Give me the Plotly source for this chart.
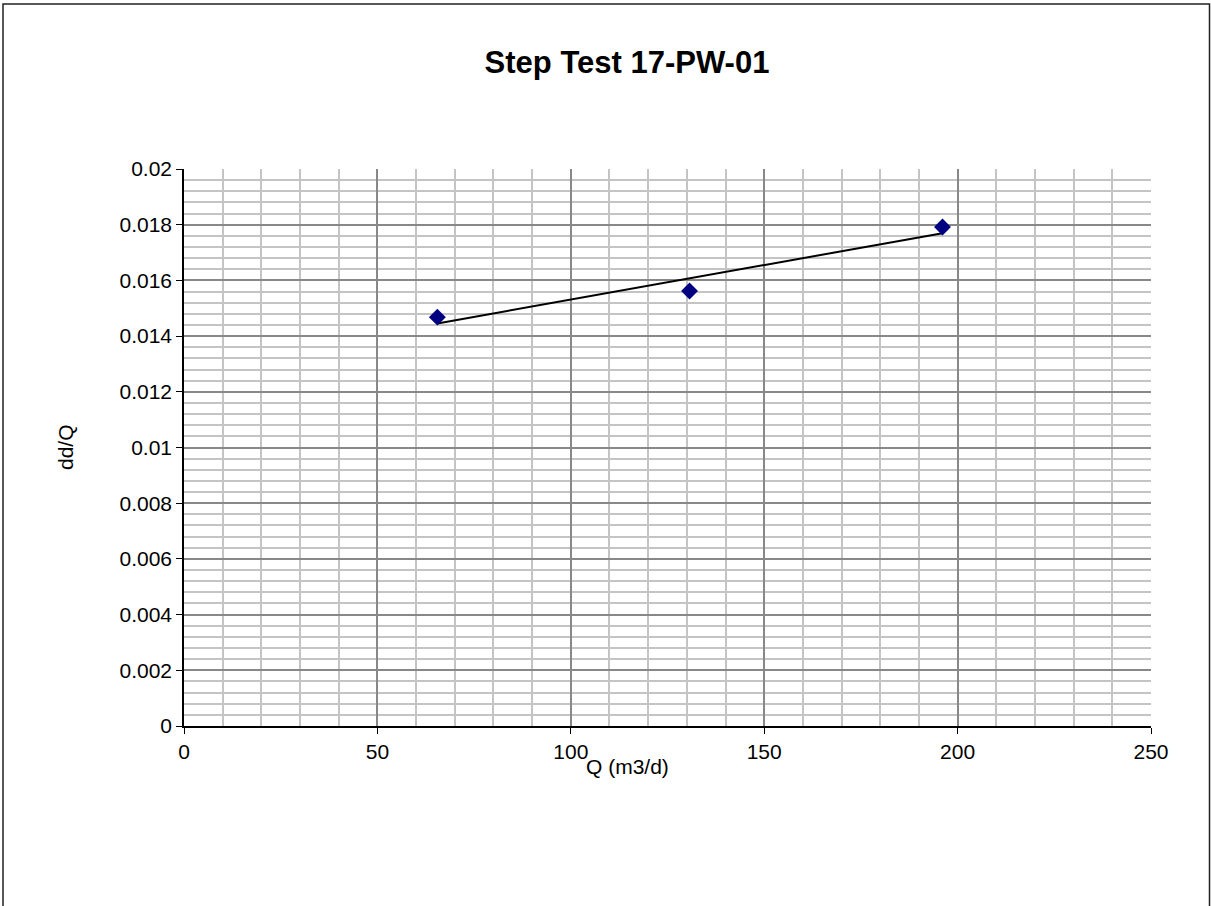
import numpy as np
import plotly.graph_objects as go

# Data
q_values = [65.5, 130.7, 196.1]
ddq_values = [0.01468, 0.01562, 0.01792]
title_text = "Step Test 17-PW-01"
x_title = "Q (m3/d)"
y_title = "dd/Q"

# Linear trendline from the data
coef = np.polyfit(q_values, ddq_values, 1)
trend_x = [min(q_values), max(q_values)]
trend_y = [coef[0] * v + coef[1] for v in trend_x]

fig = go.Figure()
fig.add_trace(go.Scatter(x=trend_x, y=trend_y, mode="lines",
                         line=dict(color="black", width=2), showlegend=False, hoverinfo="skip"))
fig.add_trace(go.Scatter(x=q_values, y=ddq_values, mode="markers",
                         marker=dict(symbol="diamond", color="#000080", size=13,
                                     line=dict(width=0)), showlegend=False))

W, H = 1211, 906
L, R, T, B = 184, 1151, 169, 726
pw, ph = R - L, B - T

def px(xp):
    return (xp - L) / pw

def py(yp):
    return (B - yp) / ph

fig.update_layout(
    width=W, height=H,
    margin=dict(l=L, r=W - R, t=T, b=H - B, pad=0),
    paper_bgcolor="white", plot_bgcolor="white",
    font=dict(family="Liberation Sans, Arial, sans-serif", size=21, color="black"),
    title=dict(text="<b>" + title_text + "</b>", x=627 / W, xanchor="center",
               y=1 - 62 / H, yanchor="middle", font=dict(size=31, color="black")),
    xaxis=dict(range=[0, 250], dtick=50, tick0=0, showline=True, linecolor="black", linewidth=1.5,
               ticks="outside", ticklen=6, tickcolor="black", showgrid=True, gridcolor="#888888",
               gridwidth=2, zeroline=False, tickfont=dict(size=21),
               minor=dict(dtick=10, showgrid=True, gridcolor="#c4c4c4", gridwidth=2)),
    yaxis=dict(range=[0, 0.02], dtick=0.002, tick0=0, showline=True, linecolor="black", linewidth=1.5,
               ticks="outside", ticklen=6, tickcolor="black", showgrid=True, gridcolor="#888888",
               gridwidth=2, zeroline=False, tickformat="~g", tickfont=dict(size=21),
               minor=dict(dtick=0.0004, showgrid=True, gridcolor="#c4c4c4", gridwidth=2)),
    annotations=[
        dict(text=x_title, xref="paper", yref="paper", x=px(627), y=py(766),
             xanchor="center", yanchor="middle", showarrow=False, font=dict(size=21)),
        dict(text=y_title, xref="paper", yref="paper", x=px(65), y=py(447),
             xanchor="center", yanchor="middle", showarrow=False, textangle=-90,
             font=dict(size=21)),
    ],
    shapes=[dict(type="rect", xref="paper", yref="paper",
                 x0=px(3), x1=px(1209.5), y0=py(912), y1=py(4),
                 line=dict(color="#222222", width=1.5), layer="above")],
)

fig.write_html("out.html")
